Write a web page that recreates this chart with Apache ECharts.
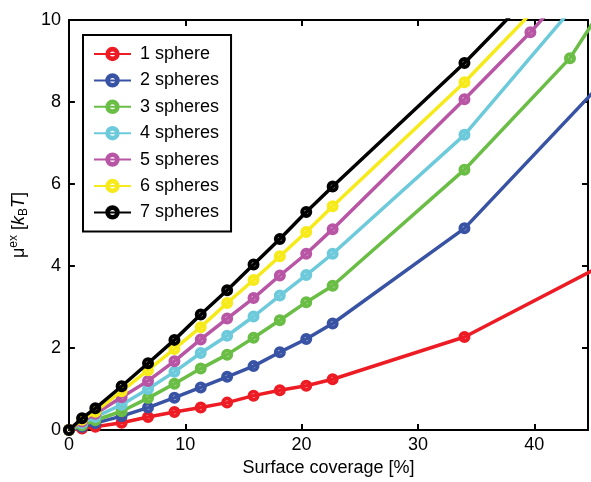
<!DOCTYPE html>
<html>
<head>
<meta charset="utf-8">
<script src="https://cdn.jsdelivr.net/npm/echarts@6/dist/echarts.min.js"></script>
<style>
html,body{margin:0;padding:0;background:#fff;}
#chart{width:591px;height:482px;}
</style>
</head>
<body>
<div id="chart"></div>
<script>
// ---- data ----
const seriesNames = ['1 sphere', '2 spheres', '3 spheres', '4 spheres', '5 spheres', '6 spheres', '7 spheres'];
const seriesColors = ['#ed1c24', '#3953a4', '#6abd45', '#6dcadb', '#b855a4', '#f7ea1a', '#000000'];

const xBase = [0, 1.13, 2.27, 4.53, 6.8, 9.07, 11.33, 13.6, 15.87, 18.13, 20.4, 22.67, 34.0];

const x1 = xBase.concat([45.33]);
const y1 = [0, 0.04, 0.08, 0.18, 0.32, 0.44, 0.55, 0.67, 0.84, 0.97, 1.08, 1.24, 2.27, 3.94];
const x2 = xBase.concat([45.33]);
const y2 = [0, 0.08, 0.17, 0.34, 0.55, 0.79, 1.04, 1.3, 1.56, 1.9, 2.22, 2.6, 4.92, 8.32];
const x3 = xBase.concat([43.07, 45.33]);
const y3 = [0, 0.12, 0.24, 0.46, 0.78, 1.13, 1.5, 1.84, 2.25, 2.68, 3.12, 3.52, 6.35, 9.07, 10.06];
const x4 = xBase.concat([45.33]);
const y4 = [0, 0.17, 0.32, 0.62, 1.0, 1.42, 1.88, 2.3, 2.77, 3.28, 3.78, 4.3, 7.2, 10.97];
const x5 = xBase.concat([39.67, 45.33]);
const y5 = [0, 0.21, 0.4, 0.8, 1.2, 1.68, 2.21, 2.72, 3.22, 3.77, 4.3, 4.9, 8.07, 9.7, 11.5];
const x6 = xBase.concat([39.67]);
const y6 = [0, 0.25, 0.45, 0.95, 1.46, 1.98, 2.51, 3.1, 3.66, 4.24, 4.83, 5.46, 8.48, 10.15];
const x7 = xBase.concat([39.67]);
const y7 = [0, 0.29, 0.53, 1.07, 1.63, 2.2, 2.82, 3.41, 4.04, 4.66, 5.32, 5.94, 8.95, 10.6];

const xTicks = [0, 10, 20, 30, 40];
const yTicks = [0, 2, 4, 6, 8, 10];

const allX = [x1, x2, x3, x4, x5, x6, x7];
const allY = [y1, y2, y3, y4, y5, y6, y7];

// ---- chart ----
const FONT = '"Liberation Sans", Arial, Helvetica, sans-serif';
const chart = echarts.init(document.getElementById('chart'), null, {renderer: 'canvas'});

const xMin = 0, xMax = 44.62, yMin = 0, yMax = 10;

// ring-shaped marker (thick coloured circle with a small hole)
const RING = 'path://M10,0 A10,10 0 1,1 10,20 A10,10 0 1,1 10,0 Z M10,6.5 A3.5,3.5 0 1,0 10,13.5 A3.5,3.5 0 1,0 10,6.5 Z';

function fmtTick(ticks) {
  return function (v) {
    for (const t of ticks) { if (Math.abs(v - t) < 1e-6) return String(t); }
    return '';
  };
}

const axisLineStyle = {color: '#000', width: 2};
const tickStyle = {show: true, inside: true, length: 6, lineStyle: {color: '#000', width: 2}};

const series = seriesNames.map(function (name, i) {
  return {
    name: name,
    type: 'line',
    xAxisIndex: 0,
    yAxisIndex: 0,
    data: allX[i].map(function (x, j) { return [x, allY[i][j]]; }),
    symbol: RING,
    symbolSize: 12,
    symbolKeepAspect: true,
    clip: true,
    lineStyle: {color: seriesColors[i], width: 3.5},
    itemStyle: {color: seriesColors[i], borderWidth: 0},
    emphasis: {disabled: true},
    z: 2 + i
  };
});

const option = {
  animation: false,
  backgroundColor: '#fff',
  textStyle: {fontFamily: FONT},
  grid: {left: 68, right: 1, top: 20, bottom: 50, containLabel: false},
  legend: {
    left: 83,
    top: 35,
    orient: 'vertical',
    data: seriesNames,
    itemWidth: 37,
    itemHeight: 18,
    itemGap: 8.4,
    padding: [10, 12, 10, 10],
    borderColor: '#000',
    borderWidth: 2,
    backgroundColor: '#fff',
    selectedMode: false,
    textStyle: {fontFamily: FONT, fontSize: 18, color: '#000', lineHeight: 18, padding: [0, 0, 0, 4]}
  },
  xAxis: [
    {
      type: 'value', position: 'bottom', min: xMin, max: xMax, interval: 10,
      name: 'Surface coverage [%]', nameLocation: 'middle', nameGap: 25,
      nameTextStyle: {fontFamily: FONT, fontSize: 18, color: '#000'},
      axisLine: {show: true, onZero: false, lineStyle: axisLineStyle},
      axisTick: tickStyle,
      axisLabel: {show: true, margin: 6, fontFamily: FONT, fontSize: 18, color: '#000', formatter: fmtTick(xTicks)},
      splitLine: {show: false}
    },
    {
      type: 'value', position: 'top', min: xMin, max: xMax, interval: 10,
      axisLine: {show: true, onZero: false, lineStyle: axisLineStyle},
      axisTick: tickStyle,
      axisLabel: {show: false},
      splitLine: {show: false}
    }
  ],
  yAxis: [
    {
      type: 'value', position: 'left', min: yMin, max: yMax, interval: 2,
      name: '{n|μ}{sup|ex}{n| [}{it|k}{sub|B}{it|T}{n|]}',
      nameLocation: 'middle', nameGap: 35, nameRotate: 90,
      nameTextStyle: {
        fontFamily: FONT, fontSize: 18, color: '#000',
        rich: {
          n: {fontFamily: FONT, fontSize: 18, lineHeight: 22, verticalAlign: 'middle', color: '#000'},
          it: {fontFamily: FONT, fontSize: 18, fontStyle: 'italic', lineHeight: 22, verticalAlign: 'middle', color: '#000'},
          sup: {fontFamily: FONT, fontSize: 12, lineHeight: 12, verticalAlign: 'top', color: '#000'},
          sub: {fontFamily: FONT, fontSize: 12, lineHeight: 12, verticalAlign: 'bottom', color: '#000'}
        }
      },
      axisLine: {show: true, onZero: false, lineStyle: axisLineStyle},
      axisTick: tickStyle,
      axisLabel: {show: true, margin: 8, fontFamily: FONT, fontSize: 18, color: '#000', formatter: fmtTick(yTicks)},
      splitLine: {show: false}
    },
    {
      type: 'value', position: 'right', min: yMin, max: yMax, interval: 2,
      axisLine: {show: true, onZero: false, lineStyle: axisLineStyle},
      axisTick: tickStyle,
      axisLabel: {show: false},
      splitLine: {show: false}
    }
  ],
  series: series
};

chart.setOption(option);
</script>
</body>
</html>
